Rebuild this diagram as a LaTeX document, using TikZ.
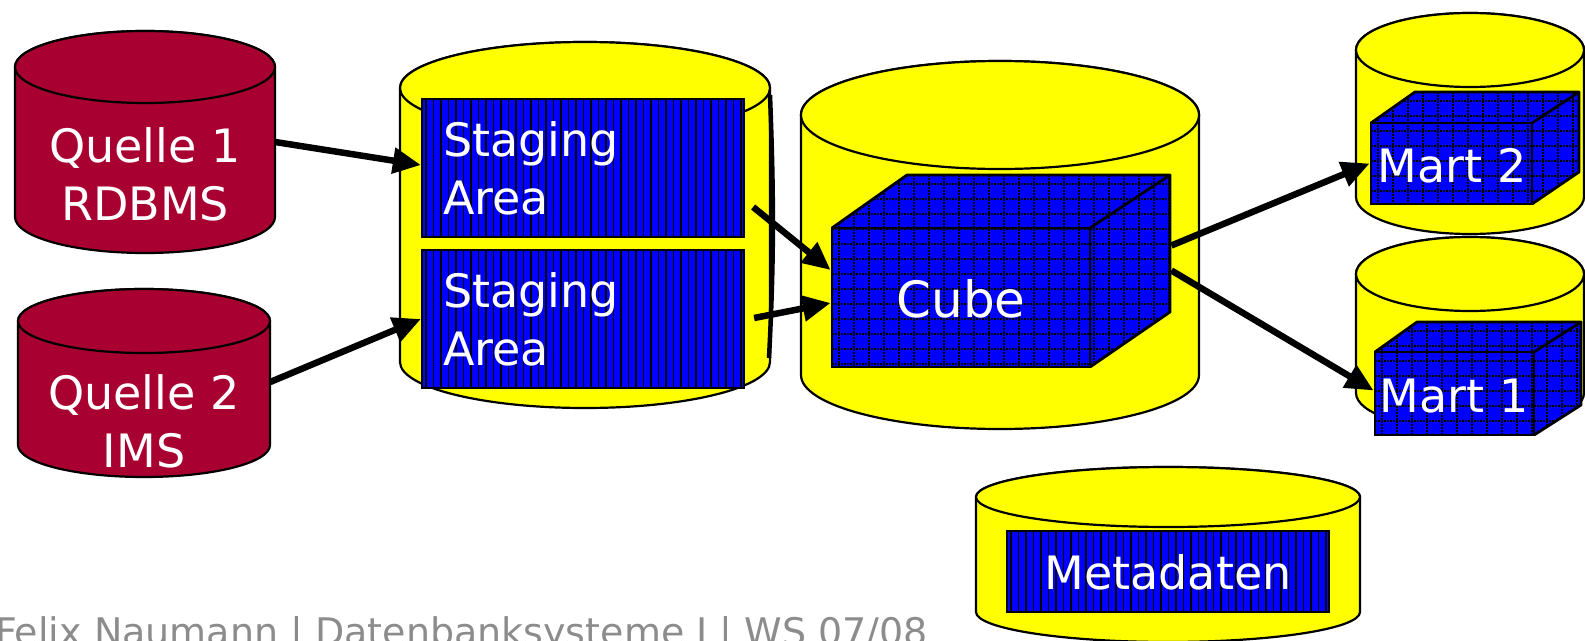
\documentclass[tikz,border=0pt]{standalone}
\usepackage{fontspec}
\setmainfont{DejaVu Sans}
\usetikzlibrary{arrows.meta,calc}
\definecolor{srcred}{RGB}{168,0,48}
\definecolor{dbyellow}{RGB}{255,255,0}
\definecolor{boxblue}{RGB}{0,0,255}
\definecolor{footgray}{RGB}{140,140,140}
\newcommand\lblfont{\fontsize{46}{58}\selectfont}
\newcommand\cubefont{\fontsize{50}{60}\selectfont}
\newcommand\footfont{\fontsize{38}{44}\selectfont}
\newcommand\dbcyl[6]{%
  \draw[outline, fill=#6] (#1-#4,#2) -- (#1-#4,#3) arc[start angle=180, end angle=0, x radius=#4, y radius=#5] -- (#1+#4,#2) arc[start angle=0, end angle=-180, x radius=#4, y radius=#5] -- cycle;
  \draw[outline, fill=#6] (#1,#2) ellipse[x radius=#4, y radius=#5];
}
\tikzset{
  outline/.style={draw=black, line width=2.2pt},
  flow/.style={line width=6.5pt, -{Triangle[length=28pt,width=25pt]}},
  lbl/.style={text=white, font=\lblfont, inner sep=0pt},
  body/.style={inner sep=0pt, draw=none},
  griddot/.style={line width=1.1pt, dash pattern=on 1.5pt off 1.5pt, black},
  gridfill/.style={fill=boxblue, path picture={
    \foreach \k in {0,...,25}{
      \draw[griddot] ($(path picture bounding box.north west)+(\k*15+7,0)$) -- ++(0,400);
      \draw[griddot] ($(path picture bounding box.north west)+(0,\k*15+9)$) -- ++(600,0);
    }}},
  stripebox/.style={fill=boxblue, draw=black, line width=2.2pt, inner sep=0pt, path picture={
    \foreach \k in {0,...,60}{
      \draw[line width=1.3pt] ($(path picture bounding box.north west)+(\k*7.5+4,0)$) -- ++(0,300);
    }}},
  cubeface/.style={draw=black, line width=2.8pt, inner sep=0pt},
  cubeedge/.style={draw=black, line width=2.8pt, line join=round},
}
\begin{document}
\begin{tikzpicture}[x=1pt,y=-1pt]
\useasboundingbox (0,0) rectangle (1585,640);
\clip (0,0) rectangle (1585,640);
\fill[white] (0,0) rectangle (1585,640);

% ---------- cylinders ----------
\dbcyl{145}{67}{217}{130}{36}{srcred}
\dbcyl{144}{321}{445}{126}{32}{srcred}
\dbcyl{585}{88}{362}{185}{46}{dbyellow}
\draw[line width=4.5pt] (770,95) .. controls (774,200) and (774,260) .. (769,358);
\dbcyl{1000}{115}{375}{199}{54}{dbyellow}
\dbcyl{1470}{50}{197}{114}{37}{dbyellow}
\dbcyl{1470}{274}{393}{114}{37}{dbyellow}
\dbcyl{1168}{497}{612}{192}{30}{dbyellow}

% invisible bodies of the source cylinders
\node[body, minimum width=260, minimum height=150] (q1) at (145,142) {};
\node[body, minimum width=252, minimum height=124] (q2) at (144,383) {};

% source labels (anchor base = last line)
\node[lbl, anchor=base, align=center] (q1t) at (145,220) {Quelle 1\\RDBMS};
\node[lbl, anchor=base, align=center] (q2t) at (144,467) {Quelle 2\\IMS};

% ---------- staging areas ----------
\node[stripebox, minimum width=322, minimum height=138] (sa1) at (583,168) {};
\node[stripebox, minimum width=322, minimum height=138] (sa2) at (583,319) {};
\node[lbl, anchor=base west, align=left] (sa1t) at (443,214) {Staging\\Area};
\node[lbl, anchor=base west, align=left] (sa2t) at (443,365) {Staging\\Area};

% ---------- metadata ----------
\node[stripebox, minimum width=322, minimum height=81] (md) at (1168,571.5) {};
\node[lbl, anchor=base] (mdt) at (1168,589) {Metadaten};

% ---------- cube ----------
\path[gridfill] (832,228) -- (907,175) -- (1170,175) -- (1170,312) -- (1090,367) -- (832,367) -- cycle;
\draw[cubeedge] (832,228) -- (907,175) -- (1170,175) -- (1090,228);
\draw[cubeedge] (1170,175) -- (1170,312) -- (1090,367);
\node[cubeface, minimum width=258, minimum height=139] (cube) at (961,297.5) {};
\node[text=white, font=\cubefont, inner sep=0pt, anchor=base] (cubet) at (961,317) {Cube};

% ---------- mart 2 ----------
\path[gridfill] (1371,123) -- (1415,92) -- (1579,92) -- (1579,172) -- (1532,204) -- (1371,204) -- cycle;
\draw[cubeedge] (1371,123) -- (1415,92) -- (1579,92) -- (1532,123);
\draw[cubeedge] (1579,92) -- (1579,172) -- (1532,204);
\node[cubeface, minimum width=161, minimum height=81] (m2) at (1451.5,163.5) {};
\node[lbl, anchor=base] (m2t) at (1452,182) {Mart 2};

% ---------- mart 1 ----------
\path[gridfill] (1375,352) -- (1417,322) -- (1581,322) -- (1581,405) -- (1534,435) -- (1375,435) -- cycle;
\draw[cubeedge] (1375,352) -- (1417,322) -- (1581,322) -- (1534,352);
\draw[cubeedge] (1581,322) -- (1581,405) -- (1534,435);
\node[cubeface, minimum width=159, minimum height=83] (m1) at (1454.5,393.5) {};
\node[lbl, anchor=base] (m1t) at (1454,412) {Mart 1};

% ---------- connectors ----------
\draw[flow] (q1.east) -- ($(sa1.west)+(0,-3)$);
\draw[flow] ($(q2.east)+(0,-1)$) -- (sa2.west);
\draw[flow] ($(sa1.east)+(8,39)$) -- ($(cube.west)+(0,-27.5)$);
\draw[flow] ($(sa2.east)+(9,-1)$) -- ($(cube.west)+(0,5.5)$);
\draw[flow] ($(cube.east)+(80,-52)$) -- (m2.west);
\draw[flow] ($(cube.east)+(80,-27)$) -- ($(m1.west)+(0,-3)$);

% ---------- footer ----------
\node[anchor=base west, text=footgray, font=\footfont, inner sep=0pt] (foot) at (-5,645) {Felix Naumann | Datenbanksysteme I | WS 07/08};
\end{tikzpicture}
\end{document}
